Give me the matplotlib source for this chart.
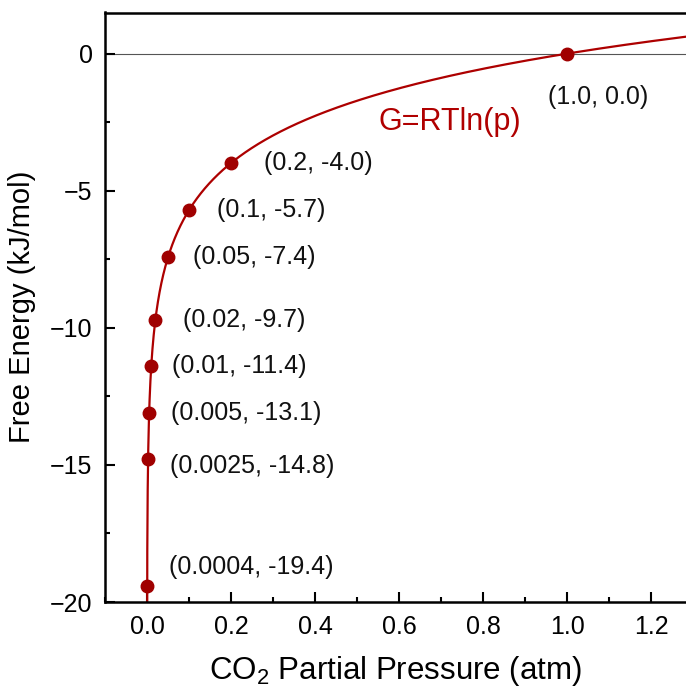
import numpy as np
import matplotlib
matplotlib.use("Agg")
import matplotlib.pyplot as plt
from matplotlib.ticker import MultipleLocator

plt.rcParams['font.family'] = ['Liberation Sans', 'DejaVu Sans']
plt.rcParams['mathtext.fontset'] = 'custom'
plt.rcParams['mathtext.rm'] = 'Liberation Sans'
plt.rcParams['mathtext.it'] = 'Liberation Sans:italic'

# data
pressures = [0.0004, 0.0025, 0.005, 0.01, 0.02, 0.05, 0.1, 0.2, 1.0]
energies = [-19.4, -14.8, -13.1, -11.4, -9.7, -7.4, -5.7, -4.0, 0.0]
point_labels = ["(0.0004, -19.4)", "(0.0025, -14.8)", "(0.005, -13.1)",
                "(0.01, -11.4)", "(0.02, -9.7)", "(0.05, -7.4)",
                "(0.1, -5.7)", "(0.2, -4.0)", "(1.0, 0.0)"]
RT = 2.479  # kJ/mol at 298 K, curve G = RT ln(p)
x_ticks = [0.0, 0.2, 0.4, 0.6, 0.8, 1.0, 1.2]
y_ticks = [0, -5, -10, -15, -20]

# layout (offsets in points for labels)
label_offsets = [(16, 13), (16, -5), (16, 0), (15, 0), (20, 0), (18, 0),
                 (20, 0), (24, 0), (22, -31)]
label_ha = ['left'] * 8 + ['center']

fig = plt.figure(figsize=(6.86, 6.89), dpi=100)
ax = fig.add_axes([105/686, 87/689, 1 - 105/686, (602 - 12.5)/689])

red = '#ad0000'
p_curve = np.linspace(1e-5, 1.3, 4000)
ax.axhline(0, color='#555555', lw=0.8, zorder=1)
ax.plot(p_curve, RT * np.log(p_curve), color=red, lw=1.6, zorder=2)
ax.plot(pressures, energies, 'o', color='#a00000', ms=9, zorder=3)

for (x, y, lab, off, ha) in zip(pressures, energies, point_labels, label_offsets, label_ha):
    ax.annotate(lab, (x, y), xytext=off, textcoords='offset points',
                ha=ha, va='center', fontsize=18, color='#111111')

ax.text(0.55, -2.5, 'G=RTln(p)', color='#b00000', fontsize=22, ha='left', va='center')

ax.set_xlim(-0.1, 1.283)
ax.set_ylim(-20, 1.5)
ax.set_xticks(x_ticks)
ax.set_yticks(y_ticks)
ax.set_xticklabels([f"{t:.1f}" for t in x_ticks])
ax.xaxis.set_minor_locator(MultipleLocator(0.1))
ax.yaxis.set_minor_locator(MultipleLocator(2.5))
ax.tick_params(which='both', direction='in', width=1.5, labelsize=18, color='black')
ax.tick_params(which='major', length=7.5)
ax.tick_params(which='minor', length=3.8)
ax.tick_params(axis='x', pad=9)
ax.tick_params(axis='y', pad=9)
ax.spines['right'].set_visible(False)
for s in ['left', 'top', 'bottom']:
    ax.spines[s].set_linewidth(1.8)

ax.set_xlabel('CO$_2$ Partial Pressure (atm)', fontsize=22.5)
ax.set_ylabel('Free Energy (kJ/mol)', fontsize=21)
ax.xaxis.set_label_coords(0.5, -0.088)
ax.yaxis.set_label_coords(-0.118, 0.5)

fig.savefig('out.png', dpi=100)
